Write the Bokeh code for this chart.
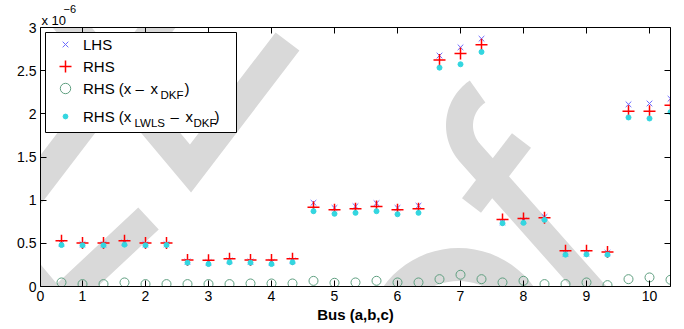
import math
from bokeh.plotting import figure
from bokeh.models import (Range1d, FixedTicker, LinearAxis, Label, Legend, LegendItem,
                          BoxAnnotation, PolyAnnotation, Title)
from bokeh.embed import file_html
from bokeh.resources import INLINE

# ---------------- data (values in units of 1e-6) ----------------
bus_pos = [2/3, 1, 4/3, 5/3, 2, 7/3, 8/3, 3, 10/3, 11/3, 4, 13/3, 14/3, 5, 16/3,
           17/3, 6, 19/3, 20/3, 7, 22/3, 23/3, 8, 25/3, 26/3, 9, 28/3, 29/3, 10, 31/3]
lhs = [0.50, 0.49, 0.49, 0.51, 0.49, 0.49, 0.29, 0.28, 0.30, 0.29, 0.28, 0.30,
       0.97, 0.91, 0.93, 0.965, 0.91, 0.935, 2.675, 2.77, 2.87, 0.745, 0.764, 0.805,
       0.384, 0.385, 0.39, 2.11, 2.12, 2.175]
rhs = [0.531, 0.505, 0.505, 0.531, 0.505, 0.505, 0.307, 0.305, 0.322, 0.307, 0.307, 0.322,
       0.919, 0.888, 0.90, 0.927, 0.888, 0.90, 2.624, 2.70, 2.80, 0.776, 0.787, 0.795,
       0.415, 0.415, 0.40, 2.03, 2.03, 2.098]
rhs_x_dkf = [0.047, 0.028, 0.028, 0.047, 0.028, 0.028, 0.028, 0.028, 0.028, 0.035, 0.035, 0.035,
             0.065, 0.043, 0.047, 0.066, 0.047, 0.047, 0.085, 0.136, 0.085, 0.047, 0.066, 0.028,
             0.028, 0.047, 0.016, 0.085, 0.105, 0.078]
rhs_lwls_dkf = [0.48, 0.477, 0.477, 0.485, 0.477, 0.48, 0.276, 0.26, 0.28, 0.276, 0.26, 0.28,
                0.872, 0.842, 0.853, 0.872, 0.837, 0.853, 2.535, 2.574, 2.717, 0.733, 0.737, 0.772,
                0.369, 0.372, 0.369, 1.958, 1.946, 2.02]

x_ticks = [1/3, 1, 2, 3, 4, 5, 6, 7, 8, 9, 10]
x_tick_labels = ["0", "1", "2", "3", "4", "5", "6", "7", "8", "9", "10"]
y_ticks = [0, 0.5, 1, 1.5, 2, 2.5, 3]
y_tick_labels = ["0", "0.5", "1", "1.5", "2", "2.5", "3"]

FONT = "Liberation Sans"
W, H = 684, 329
X0, X1, Y0, Y1 = 1/3, 31/3, 0, 3
BL, BR, BT, BB = 40, 14, 27, 43  # borders -> frame placement in pixels

p = figure(width=W, height=H, output_backend="svg", toolbar_location=None,
           x_range=Range1d(X0, X1), y_range=Range1d(Y0, Y1),
           min_border_left=BL, min_border_right=BR, min_border_top=BT, min_border_bottom=BB)
p.xgrid.visible = False
p.ygrid.visible = False
p.outline_line_color = None
p.background_fill_color = "white"
p.border_fill_color = "white"

# axis multiplier "x 10^-6" as two title rows
p.title = Title(text="\u22126", align="left", offset=23, standoff=-5,
                text_font=FONT, text_font_size="11px", text_font_style="normal",
                text_color="black")

def style_axis(ax, labels=True):
    ax.axis_line_color = "black"
    ax.axis_line_width = 1
    ax.major_tick_line_color = "black"
    ax.major_tick_in = 6
    ax.major_tick_out = 0
    ax.minor_tick_in = 0
    ax.minor_tick_out = 0
    ax.minor_tick_line_color = None
    if labels:
        ax.major_label_text_font = FONT
        ax.major_label_text_font_size = "14px"
        ax.major_label_text_color = "black"
        ax.major_label_standoff = 4
    else:
        ax.major_label_text_font_size = "1px"
        ax.major_label_text_color = None
        ax.major_label_standoff = 0

xa = p.xaxis[0]
xa.ticker = FixedTicker(ticks=x_ticks)
xa.major_label_overrides = dict(zip(x_ticks, x_tick_labels))
style_axis(xa)
xa.axis_label = "Bus (a,b,c)"
xa.axis_label_text_font = FONT
xa.axis_label_text_font_size = "15px"
xa.axis_label_text_font_style = "bold"
xa.axis_label_text_color = "black"
xa.axis_label_standoff = 2
ya = p.yaxis[0]
ya.ticker = FixedTicker(ticks=y_ticks)
ya.major_label_overrides = dict(zip(y_ticks, y_tick_labels))
style_axis(ya)

top_ax = LinearAxis(ticker=FixedTicker(ticks=x_ticks[1:]))
style_axis(top_ax, labels=False)
p.add_layout(top_ax, "above")
p.add_layout(Title(text="x 10", align="left", offset=1, standoff=0,
                   text_font=FONT, text_font_size="13px", text_font_style="normal",
                   text_color="black"), "above")
right_ax = LinearAxis(ticker=FixedTicker(ticks=y_ticks))
style_axis(right_ax, labels=False)
p.add_layout(right_ax, "right")

# pixel -> data helper (for decoration placement only)
FW, FH = W - BL - BR, H - BT - BB
def px_x(px):
    return X0 + (px - BL) * (X1 - X0) / FW
def px_y(py):
    return Y0 + (H - BB - py) * (Y1 - Y0) / FH

# ---------------- background watermark (decoration, canvas pixels) ----------------
def stroke(pts, w):
    hw = w / 2
    n = len(pts)
    normals = []
    for i in range(n - 1):
        (x0, y0), (x1, y1) = pts[i], pts[i + 1]
        L = math.hypot(x1 - x0, y1 - y0)
        normals.append((-(y1 - y0) / L, (x1 - x0) / L))
    left, right = [], []
    for i, (x, y) in enumerate(pts):
        if i == 0:
            nx, ny = normals[0]; d = hw
        elif i == n - 1:
            nx, ny = normals[-1]; d = hw
        else:
            ax_, ay_ = normals[i - 1][0] + normals[i][0], normals[i - 1][1] + normals[i][1]
            La = math.hypot(ax_, ay_)
            nx, ny = ax_ / La, ay_ / La
            d = hw / (nx * normals[i][0] + ny * normals[i][1])
        left.append((x + nx * d, y + ny * d))
        right.append((x - nx * d, y - ny * d))
    poly = left + right[::-1]
    return [q[0] for q in poly], [q[1] for q in poly]

def arc_pts(cx, cy, r, a0, a1, n=40):
    return [(cx + r * math.cos(math.radians(a0 + (a1 - a0) * i / n)),
             cy + r * math.sin(math.radians(a0 + (a1 - a0) * i / n))) for i in range(n + 1)]

wm_strokes = [
    ([(28, -25), (190, 168), (287, 41)], 30),
    ([(196, -25), (-52, 300)], 30),
    ([(-30, 204), (55, 305), (148, 218)], 30),
    (arc_pts(500, 125, 41, 236, 137) + [(605, 305)], 27),
    ([(471, 205), (521, 140)], 24),
    (arc_pts(458, 340, 76, 170, 370), 33),
]
for pts, w in wm_strokes:
    xs, ys = stroke(pts, w)
    p.add_layout(PolyAnnotation(xs=xs, ys=ys, xs_units="canvas", ys_units="canvas",
                                fill_color="#d9d9d9", fill_alpha=1.0, line_color=None,
                                level="underlay"))

# ---------------- data marks ----------------
r_lhs = p.scatter(bus_pos, lhs, marker="x", size=8, line_color="#6b6bff", line_width=1)
r_rhs = p.scatter(bus_pos, rhs, marker="cross", size=12, line_color="#ff0000", line_width=1.5)
r_c = p.scatter(bus_pos, rhs_x_dkf, marker="circle", size=9, line_color="#5f9f80",
                fill_color=None, line_width=1)
r_d = p.scatter(bus_pos, rhs_lwls_dkf, marker="circle", size=5, line_color="#33d6e0",
                fill_color="#33d6e0")

# ---------------- legend ----------------
p.add_layout(BoxAnnotation(left=px_x(45), right=px_x(236), top=px_y(32), bottom=px_y(132),
                           fill_color="white", fill_alpha=1.0, line_color="black",
                           line_width=1, line_alpha=1.0, level="annotation"))

FRAME_L, FRAME_B = BL, H - BB

def mini_legend(label, rend, cy, gw, gh):
    left = 65 - gw // 2
    lg = Legend(items=[LegendItem(label=label, renderers=[rend])],
                location=(left - FRAME_L, FRAME_B - (cy + gh // 2)),
                glyph_width=gw, glyph_height=gh, label_height=gh, label_width=10,
                label_standoff=int(83 - (left + gw)), padding=0, margin=0, spacing=0,
                border_line_color=None, background_fill_alpha=0,
                label_text_font=FONT, label_text_font_size="15px",
                label_text_color="black")
    p.add_layout(lg)

mini_legend("LHS", r_lhs, 44, 20, 20)
mini_legend("RHS", r_rhs, 66, 30, 30)
mini_legend("RHS (x", r_c, 88, 26, 26)
mini_legend("RHS (x", r_d, 116, 12, 20)

def txt(s, x, y, size="15px", style="normal", align="left"):
    p.add_layout(Label(x=x, y=y, x_units="canvas", y_units="canvas", text=s,
                       text_font=FONT, text_font_size=size, text_font_style=style,
                       text_align=align, text_baseline="middle", text_color="black"))

txt("\u2013", 135, 88)
txt("x", 150, 88)
txt("DKF", 160, 94, size="11.5px")
txt(")", 184, 88)
txt("LWLS", 134, 122, size="11.5px")
txt("\u2013", 170, 116)
txt("x", 185, 116)
txt("DKF", 193, 122, size="11.5px")
txt(")", 214, 116)

open("out.html", "w").write(file_html(p, INLINE))
